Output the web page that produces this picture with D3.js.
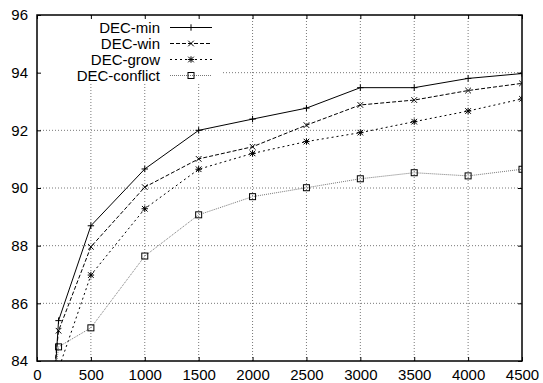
<!DOCTYPE html>
<html><head><meta charset="utf-8">
<script src="https://cdnjs.cloudflare.com/ajax/libs/d3/7.8.5/d3.min.js"></script>
<style>
html,body{margin:0;padding:0;background:#fff;}
text{font-family:"Liberation Sans",Arial,Helvetica,sans-serif;}
</style></head>
<body>
<svg id="chart" width="543" height="383"></svg>
<script>
const xValues = [100, 200, 500, 1000, 1500, 2000, 2500, 3000, 3500, 4000, 4500];
const decMin = [79.6, 85.40, 88.69, 90.66, 92.00, 92.39, 92.77, 93.48, 93.48, 93.80, 93.97];
const decWin = [81.6, 85.05, 87.96, 90.03, 91.01, 91.43, 92.18, 92.88, 93.05, 93.38, 93.63];
const decGrow = [79.0, 83.72, 86.98, 89.28, 90.65, 91.20, 91.61, 91.92, 92.30, 92.67, 93.09];
const decConflict = [81.1, 84.49, 85.15, 87.64, 89.07, 89.70, 90.01, 90.32, 90.53, 90.42, 90.65];
const seriesNames = ["DEC-min", "DEC-win", "DEC-grow", "DEC-conflict"];
const xTicks = [0, 500, 1000, 1500, 2000, 2500, 3000, 3500, 4000, 4500];
const yTicks = [84, 86, 88, 90, 92, 94, 96];

const series = [
  {name: seriesNames[0], values: decMin, dash: null, color: "#000", marker: "plus"},
  {name: seriesNames[1], values: decWin, dash: "4,2", color: "#000", marker: "cross"},
  {name: seriesNames[2], values: decGrow, dash: "2,3", color: "#000", marker: "star"},
  {name: seriesNames[3], values: decConflict, dash: "1,1", color: "#777", marker: "square"}
];

const svg = d3.select("#chart");
const L = 37, R = 522, T = 15, B = 361;
const x = d3.scaleLinear().domain([0, 4500]).range([L, R]);
const y = d3.scaleLinear().domain([84, 96]).range([B, T]);

svg.append("defs").append("clipPath").attr("id", "clip")
  .append("rect").attr("x", L).attr("y", T).attr("width", R - L).attr("height", B - T);

// grid
const grid = svg.append("g");
xTicks.slice(1, -1).forEach(t => {
  grid.append("line").attr("x1", x(t)).attr("x2", x(t)).attr("y1", T).attr("y2", B)
    .attr("stroke", "#555").attr("stroke-width", 0.8).attr("stroke-dasharray", "1,2");
});
yTicks.slice(1, -1).forEach(t => {
  grid.append("line").attr("x1", L).attr("x2", R).attr("y1", y(t)).attr("y2", y(t))
    .attr("stroke", "#555").attr("stroke-width", 0.8).attr("stroke-dasharray", "1,2");
});

// legend background (covers grid)
svg.append("rect").attr("x", L + 1).attr("y", T + 1).attr("width", 222 - L).attr("height", 83 - T).attr("fill", "#fff");

// axes ticks & labels
const xAxis = d3.axisBottom(x).tickValues(xTicks).tickSize(-4).tickPadding(0).tickFormat(d3.format("d"));
const gx = svg.append("g").attr("transform", `translate(0,${B})`).call(xAxis);
gx.select(".domain").remove();
gx.selectAll("text").attr("font-size", 15).attr("fill", "#000")
  .attr("font-family", '"Liberation Sans",Arial,sans-serif')
  .attr("dy", null).attr("y", 18.5);
gx.selectAll("line").attr("stroke", "#000");

const xAxisTop = d3.axisTop(x).tickValues(xTicks).tickSize(-4).tickFormat("");
const gxt = svg.append("g").attr("transform", `translate(0,${T})`).call(xAxisTop);
gxt.select(".domain").remove();
gxt.selectAll("line").attr("stroke", "#000");

const yAxis = d3.axisLeft(y).tickValues(yTicks).tickSize(-4).tickPadding(9).tickFormat(d3.format("d"));
const gy = svg.append("g").attr("transform", `translate(${L},0)`).call(yAxis);
gy.select(".domain").remove();
gy.selectAll("text").attr("font-size", 15).attr("fill", "#000").attr("font-family", '"Liberation Sans",Arial,sans-serif');
gy.selectAll("line").attr("stroke", "#000");

const yAxisR = d3.axisRight(y).tickValues(yTicks).tickSize(-4).tickFormat("");
const gyr = svg.append("g").attr("transform", `translate(${R},0)`).call(yAxisR);
gyr.select(".domain").remove();
gyr.selectAll("line").attr("stroke", "#000");

// markers
function drawMarker(g, type, cx, cy, color) {
  const s = 3.2;
  if (type === "plus" || type === "star") {
    g.append("line").attr("x1", cx - s).attr("x2", cx + s).attr("y1", cy).attr("y2", cy).attr("stroke", color).attr("stroke-width", 1);
    g.append("line").attr("x1", cx).attr("x2", cx).attr("y1", cy - s).attr("y2", cy + s).attr("stroke", color).attr("stroke-width", 1);
  }
  if (type === "cross" || type === "star") {
    const c = 2.8;
    g.append("line").attr("x1", cx - c).attr("x2", cx + c).attr("y1", cy - c).attr("y2", cy + c).attr("stroke", color).attr("stroke-width", 1);
    g.append("line").attr("x1", cx - c).attr("x2", cx + c).attr("y1", cy + c).attr("y2", cy - c).attr("stroke", color).attr("stroke-width", 1);
  }
  if (type === "square") {
    g.append("rect").attr("x", cx - 3).attr("y", cy - 3).attr("width", 6).attr("height", 6)
      .attr("fill", "none").attr("stroke", "#000").attr("stroke-width", 1);
  }
}

const plot = svg.append("g").attr("clip-path", "url(#clip)");
const line = d3.line().x((d, i) => x(xValues[i])).y(d => y(d));
series.forEach(s => {
  plot.append("path").datum(s.values).attr("d", line)
    .attr("fill", "none").attr("stroke", s.color).attr("stroke-width", 1)
    .attr("stroke-dasharray", s.dash);
  const mg = plot.append("g");
  s.values.forEach((v, i) => drawMarker(mg, s.marker, x(xValues[i]), y(v), "#000"));
});

// legend
const lg = svg.append("g");
series.forEach((s, i) => {
  const cy = 27.5 + i * 16;
  lg.append("text").attr("x", 160).attr("y", cy + 5.5).attr("text-anchor", "end")
    .attr("font-size", 15).attr("fill", "#000").text(s.name);
  lg.append("line").attr("x1", 170).attr("x2", 212).attr("y1", cy).attr("y2", cy)
    .attr("stroke", s.color).attr("stroke-width", 1).attr("stroke-dasharray", s.dash);
  drawMarker(lg, s.marker, 191, cy, "#000");
});

// frame
svg.append("rect").attr("x", L).attr("y", T).attr("width", R - L).attr("height", B - T)
  .attr("fill", "none").attr("stroke", "#000").attr("stroke-width", 1.5);
</script>
</body></html>
